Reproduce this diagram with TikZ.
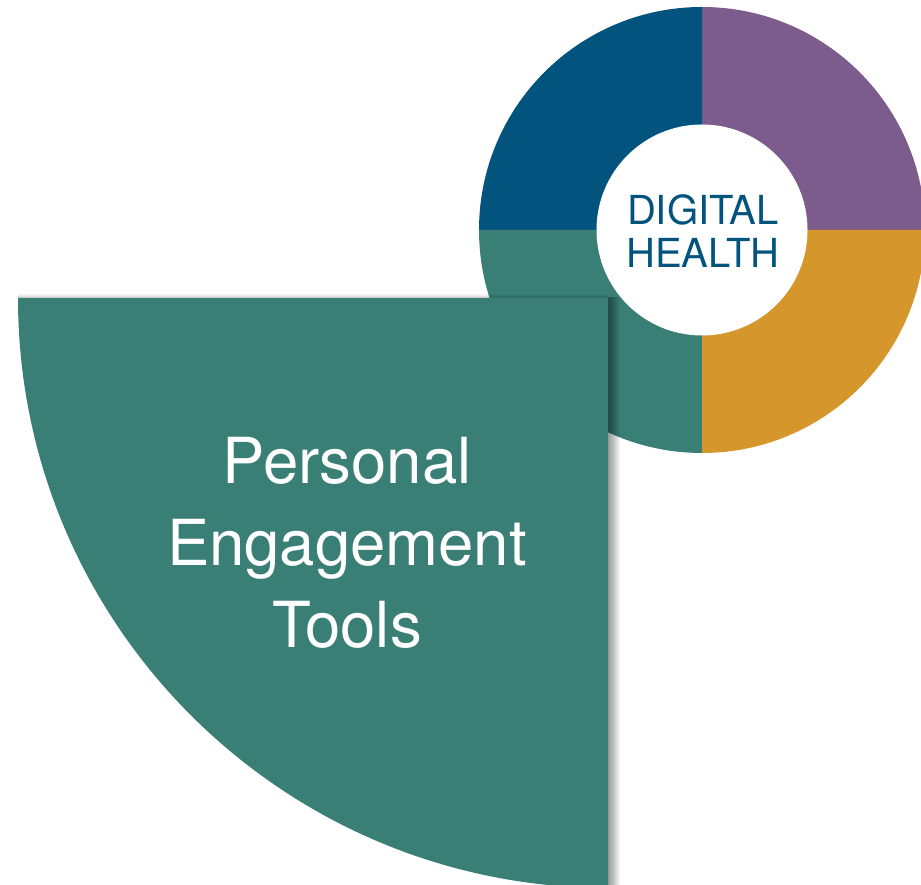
\documentclass[tikz,border=0pt]{standalone}
\usepackage{fontspec}
\setmainfont{TeX Gyre Heros}
\definecolor{dhblue}{RGB}{2,84,126}
\definecolor{dhpurple}{RGB}{124,92,140}
\definecolor{dhgold}{RGB}{213,150,43}
\definecolor{dhteal}{RGB}{58,127,117}
\begin{document}
\begin{tikzpicture}[x=1pt,y=1pt,
  shadowlayer/.style={fill=black,opacity=0.04}]
\useasboundingbox (0,0) rectangle (921,885);
% ring
\coordinate (c) at (702,655);
\fill[dhpurple] (c) -- ++(0:223) arc (0:90:223) -- cycle;
\fill[dhblue] (c) -- ++(90:223) arc (90:180:223) -- cycle;
\fill[dhteal] (c) -- ++(180:223) arc (180:270:223) -- cycle;
\fill[dhgold] (c) -- ++(270:223) arc (270:360:223) -- cycle;
\fill[white] (c) circle (105.5);
\node[text=dhblue, align=center, font=\fontsize{40}{43}\selectfont, inner sep=0pt] (dh) at (703,654) {DIGITAL\\HEALTH};
% shadow of big quarter
\foreach \i in {0,...,11} {
  \fill[shadowlayer] (608,-3) rectangle (620-\i,588);
}
\foreach \i in {0,...,3} {
  \fill[shadowlayer] (18,587) rectangle (608,591-\i);
}
% big quarter
\fill[dhteal] (608,587) -- (18,587) arc (180:270:590) -- cycle;
\node[text=white, align=center, font=\fontsize{63.5}{82}\selectfont, inner sep=0pt] (pet) at (347,342) {Personal\\Engagement\\Tools};
\end{tikzpicture}
\end{document}
